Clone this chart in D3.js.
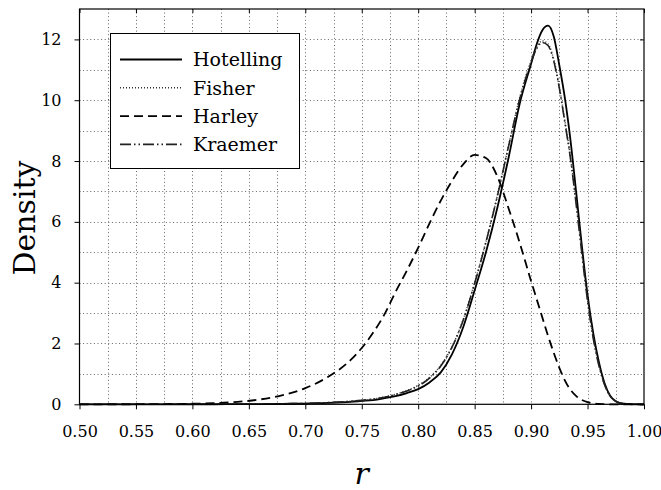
<!DOCTYPE html>
<html>
<head>
<meta charset="utf-8">
<script src="https://cdn.jsdelivr.net/npm/d3@7"></script>
<style>
  body { margin: 0; background: #fff; }
  svg { display: block; font-family: "DejaVu Serif", serif; }
</style>
</head>
<body>
<script>
// sample points of r shared by every series
const rValues = [0.50, 0.55, 0.60, 0.62, 0.64, 0.66, 0.68, 0.70, 0.72, 0.74, 0.75, 0.76, 0.77,
  0.78, 0.79, 0.80, 0.81, 0.82, 0.83, 0.84, 0.85, 0.86, 0.87, 0.88, 0.89, 0.90, 0.905, 0.91,
  0.915, 0.92, 0.925, 0.93, 0.935, 0.94, 0.945, 0.95, 0.955, 0.96, 0.965, 0.97, 0.975, 0.98,
  0.99, 1.00];

const hotelling = [0, 0, 0.001, 0.002, 0.004, 0.008, 0.015, 0.025, 0.045, 0.08, 0.11, 0.14, 0.2,
  0.27, 0.37, 0.5, 0.72, 1.05, 1.65, 2.55, 3.75, 5.0, 6.45, 8.1, 9.9, 11.2, 11.85, 12.3,
  12.45, 12.1, 11.15, 10.05, 8.65, 6.95, 5.2, 3.6, 2.35, 1.4, 0.7, 0.28, 0.1, 0.03,
  0.002, 0];

const fisher = [0, 0, 0.001, 0.002, 0.005, 0.01, 0.018, 0.03, 0.055, 0.1, 0.13, 0.17, 0.24,
  0.33, 0.45, 0.62, 0.88, 1.28, 1.9, 2.8, 4.0, 5.35, 6.85, 8.5, 10.1, 11.3, 11.75, 11.95,
  11.85, 11.35, 10.45, 9.3, 8.1, 6.6, 5.0, 3.45, 2.2, 1.3, 0.66, 0.27, 0.1, 0.03,
  0.002, 0];

const harley = [0, 0.003, 0.02, 0.04, 0.08, 0.16, 0.3, 0.53, 0.9, 1.45, 1.85, 2.35, 2.95,
  3.7, 4.4, 5.15, 5.95, 6.7, 7.35, 7.9, 8.2, 8.1, 7.5, 6.45, 5.3, 4.05, 3.45, 2.85,
  2.25, 1.7, 1.2, 0.78, 0.47, 0.27, 0.14, 0.07, 0.03, 0.01, 0.005, 0, 0, 0,
  0, 0];

const kraemer = [0, 0, 0.001, 0.002, 0.005, 0.01, 0.018, 0.03, 0.055, 0.1, 0.13, 0.17, 0.23,
  0.32, 0.44, 0.6, 0.86, 1.26, 1.88, 2.78, 3.98, 5.33, 6.83, 8.48, 10.05, 11.25, 11.7, 11.9,
  11.8, 11.3, 10.4, 9.25, 8.05, 6.55, 4.95, 3.4, 2.18, 1.28, 0.65, 0.27, 0.1, 0.03,
  0.002, 0];

const seriesNames = ["Hotelling", "Fisher", "Harley", "Kraemer"];
const seriesValues = [hotelling, fisher, harley, kraemer];

const xTicks = [0.50, 0.55, 0.60, 0.65, 0.70, 0.75, 0.80, 0.85, 0.90, 0.95, 1.00];
const yTicks = [0, 2, 4, 6, 8, 10, 12];

const width = 661;
const height = 490;
const plotL = 79.5, plotR = 644, plotT = 9, plotB = 404.3;

// line look for each series
const dashes = {
  Hotelling: null,
  Fisher: "1,2",
  Harley: "9,5",
  Kraemer: "11,3,1.5,3,1.5,3"
};
const strokeW = { Hotelling: 1.8, Fisher: 1.5, Harley: 1.8, Kraemer: 1.6 };
const strokeC = { Hotelling: "#000", Fisher: "#333", Harley: "#000", Kraemer: "#222" };

const svg = d3.select("body").append("svg")
  .attr("width", width)
  .attr("height", height);

svg.append("rect").attr("width", width).attr("height", height).attr("fill", "#fff");

const x = d3.scaleLinear().domain([0.5, 1.0]).range([plotL, plotR]);
const y = d3.scaleLinear().domain([0, 13]).range([plotB, plotT]);

// dotted grid, every 0.025 in r and every 1 in density
const grid = svg.append("g")
  .attr("stroke", "#666")
  .attr("stroke-width", 1)
  .attr("stroke-dasharray", "1,2.6");

grid.selectAll(".gx")
  .data(d3.range(1, 20).map(i => 0.5 + i * 0.025))
  .join("line")
  .attr("x1", d => Math.round(x(d)) + 0.5)
  .attr("x2", d => Math.round(x(d)) + 0.5)
  .attr("y1", plotT)
  .attr("y2", plotB);

grid.selectAll(".gy")
  .data(d3.range(1, 13))
  .join("line")
  .attr("x1", plotL)
  .attr("x2", plotR)
  .attr("y1", d => Math.round(y(d)) + 0.5)
  .attr("y2", d => Math.round(y(d)) + 0.5);

// curves
const line = d3.line()
  .x(d => x(d[0]))
  .y(d => y(d[1]))
  .curve(d3.curveMonotoneX);

seriesNames.forEach((name, i) => {
  const pts = rValues.map((r, j) => [r, seriesValues[i][j]]);
  svg.append("path")
    .datum(pts)
    .attr("d", line)
    .attr("fill", "none")
    .attr("stroke", strokeC[name])
    .attr("stroke-width", strokeW[name])
    .attr("stroke-dasharray", dashes[name]);
});

// frame
svg.append("rect")
  .attr("x", plotL).attr("y", plotT)
  .attr("width", plotR - plotL).attr("height", plotB - plotT)
  .attr("fill", "none")
  .attr("stroke", "#000")
  .attr("stroke-width", 1.2);

// axes
const axisB = svg.append("g")
  .attr("transform", `translate(0, ${plotB})`)
  .call(d3.axisBottom(x).tickValues(xTicks).tickFormat(d3.format(".2f")).tickSize(5).tickPadding(16));
axisB.select(".domain").remove();
axisB.selectAll("text").attr("font-family", "DejaVu Serif").attr("font-size", 16).attr("fill", "#000");

const axisT = svg.append("g")
  .attr("transform", `translate(0, ${plotT})`)
  .call(d3.axisBottom(x).tickValues(xTicks).tickFormat("").tickSize(4));
axisT.select(".domain").remove();

const axisL = svg.append("g")
  .attr("transform", `translate(${plotL}, 0)`)
  .call(d3.axisLeft(y).tickValues(yTicks).tickSize(5).tickPadding(13));
axisL.select(".domain").remove();
axisL.selectAll("text").attr("font-family", "DejaVu Serif").attr("font-size", 16).attr("fill", "#000");

const axisR = svg.append("g")
  .attr("transform", `translate(${plotR}, 0)`)
  .call(d3.axisLeft(y).tickValues(yTicks).tickFormat("").tickSize(4));
axisR.select(".domain").remove();

// axis titles
svg.append("text")
  .attr("transform", "translate(35, 218) rotate(-90)")
  .attr("text-anchor", "middle")
  .attr("font-size", 30)
  .text("Density");

svg.append("text")
  .attr("x", (plotL + plotR) / 2)
  .attr("y", 484)
  .attr("text-anchor", "middle")
  .attr("font-size", 30)
  .attr("font-style", "italic")
  .text("r");

// legend
const legend = svg.append("g");
legend.append("rect")
  .attr("x", 110.5).attr("y", 33.5)
  .attr("width", 189).attr("height", 135)
  .attr("fill", "#fff")
  .attr("stroke", "#000")
  .attr("stroke-width", 1);

seriesNames.forEach((name, i) => {
  const ly = 59.5 + i * 28.3;
  legend.append("line")
    .attr("x1", 120).attr("x2", 182)
    .attr("y1", ly).attr("y2", ly)
    .attr("stroke", strokeC[name])
    .attr("stroke-width", strokeW[name])
    .attr("stroke-dasharray", dashes[name]);
  legend.append("text")
    .attr("x", 193)
    .attr("y", ly + 6.8)
    .attr("font-size", 19)
    .text(name);
});
</script>
</body>
</html>
